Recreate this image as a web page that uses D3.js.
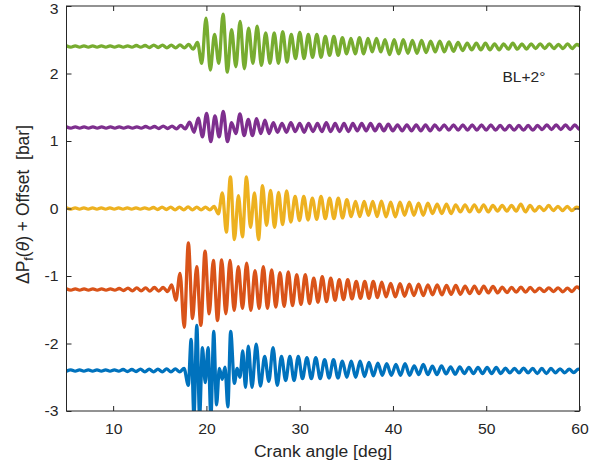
<!DOCTYPE html>
<html>
<head>
<meta charset="utf-8">
<script src="https://cdn.jsdelivr.net/npm/d3@7"></script>
<style>
body { margin: 0; background: #fff; }
text { font-family: "Liberation Sans", Arial, Helvetica, sans-serif; fill: #262626; }
</style>
</head>
<body>
<div id="chart"></div>
<script>
// pressure traces, read off the figure as the extremes of each oscillation (bar, before offset)
// each trace is split in spans of crank angle [deg]; values inside a span are evenly spaced

var offsets = [-2.4, -1.2, 0, 1.2, 2.4];
var colors = ["#0072BD", "#D95319", "#EDB120", "#7E2F8E", "#77AC30"];
var xTicks = [10, 20, 30, 40, 50, 60];
var yTicks = [-3, -2, -1, 0, 1, 2, 3];

var blueSpans = [[5, 17.6], [18.06, 22.6], [23.0, 24.49], [24.89, 29.85], [30.3, 39.33], [39.83, 60.36]];
var blueVals = [
  [-0.01,0.01,-0.01,0.01,-0.01,0.01,-0.01,0.01,-0.01,0.01,-0.01,0.01,-0.01,0.015,-0.015,0.015,-0.015,0.02,-0.02,0.02,-0.02,0.02,-0.02,0.025,-0.02,0.025,-0.02,0.03],
  [-0.22,0.46,-0.68,0.67,-0.68,0.34,-0.18,0.34,-0.68,0.58,-0.51,0.03,-0.13,0.05,-0.54,0.58],
  [-0.19,0.03,-0.10,0.29,-0.25,0.36],
  [-0.25,0.39,-0.23,0.21,-0.16,0.34,-0.22,0.21,-0.15,0.21,-0.15,0.21],
  [-0.12,0.19,-0.12,0.19,-0.12,0.16,-0.11,0.16,-0.11,0.14,-0.10,0.14,-0.10,0.14,-0.09,0.12,-0.08,0.11,-0.07,0.10],
  [-0.07,0.09,-0.07,0.10,-0.07,0.07,-0.06,0.09,-0.06,0.065,-0.06,0.07,-0.05,0.055,-0.055,0.055,-0.045,0.045,-0.045,0.045,-0.045,0.045,-0.045,0.045,-0.045,0.035,-0.035,0.03,-0.035,0.035,-0.035,0.03,-0.045,0.03,-0.045,0.03,-0.035,0.025,-0.035,0.02,-0.03,0.02,-0.02]
];

var orangeSpans = [[5, 15.83], [16.28, 28.78], [29.23, 38.8], [39.26, 60.2]];
var orangeVals = [
  [0.01,-0.01,0.01,-0.01,0.01,-0.01,0.01,-0.01,0.01,-0.01,0.01,-0.01,0.015,-0.015,0.02,-0.02,0.025,-0.02,0.025,-0.025,0.03,-0.025,0.03,-0.03],
  [0.07,-0.16,0.24,-0.56,0.69,-0.43,0.34,-0.53,0.57,-0.36,0.43,-0.46,0.44,-0.36,0.43,-0.31,0.34,-0.28,0.39,-0.31,0.28,-0.28,0.34,-0.28,0.29,-0.26,0.25,-0.25,0.26],
  [-0.24,0.22,-0.22,0.22,-0.21,0.17,-0.19,0.19,-0.18,0.17,-0.16,0.145,-0.15,0.145,-0.14,0.12,-0.13,0.12,-0.13,0.12,-0.12,0.11],
  [-0.11,0.09,-0.11,0.085,-0.10,0.08,-0.09,0.08,-0.09,0.07,-0.08,0.07,-0.08,0.06,-0.07,0.06,-0.07,0.05,-0.06,0.05,-0.06,0.05,-0.05,0.045,-0.05,0.035,-0.045,0.03,-0.04,0.035,-0.04,0.03,-0.035,0.02,-0.03,0.025,-0.03,0.025,-0.035,0.02,-0.03,0.04,-0.01]
];

var yellowSpans = [[5, 20.83], [21.28, 28.6], [29.05, 38.76], [39.26, 60.18]];
var yellowVals = [
  [0.01,-0.01,0.01,-0.01,0.01,-0.01,0.01,-0.01,0.01,-0.01,0.01,-0.01,0.01,-0.01,0.01,-0.01,0.01,-0.01,0.01,-0.01,0.015,-0.015,0.02,-0.015,0.02,-0.02,0.02,-0.02,0.025,-0.02,0.02,-0.02,0.02,-0.02,0.03],
  [-0.08,0.23,-0.35,0.47,-0.46,0.19,-0.42,0.47,-0.28,0.23,-0.46,0.34,-0.25,0.27,-0.28,0.24,-0.24,0.26],
  [-0.20,0.18,-0.18,0.18,-0.17,0.155,-0.16,0.18,-0.15,0.155,-0.15,0.155,-0.14,0.13,-0.12,0.105,-0.12,0.105,-0.10,0.105,-0.12,0.11],
  [-0.125,0.095,-0.125,0.095,-0.10,0.095,-0.10,0.08,-0.10,0.08,-0.075,0.065,-0.075,0.065,-0.075,0.055,-0.05,0.055,-0.05,0.055,-0.05,0.055,-0.05,0.045,-0.04,0.045,-0.04,0.045,-0.04,0.065,-0.05,0.045,-0.04,0.03,-0.03,0.045,-0.03,0.03,-0.03,0.03,-0.03,0.02,-0.01]
];

var purpleSpans = [[5, 18.67], [19.13, 27.17], [27.63, 39.5], [39.99, 60.5]];
var purpleVals = [
  [0.01,-0.01,0.01,-0.01,0.01,-0.01,0.01,-0.01,0.01,-0.01,0.01,-0.01,0.01,-0.01,0.01,-0.01,0.01,-0.01,0.015,-0.01,0.015,-0.015,0.02,-0.015,0.02,-0.02,0.03,-0.02,0.08,-0.07],
  [0.14,-0.14,0.21,-0.21,0.17,-0.14,0.24,-0.21,0.07,-0.09,0.20,-0.12,0.12,-0.12,0.13,-0.09,0.11,-0.09,0.07],
  [-0.07,0.06,-0.07,0.07,-0.06,0.06,-0.07,0.06,-0.06,0.06,-0.06,0.07,-0.06,0.06,-0.06,0.06,-0.06,0.06,-0.05,0.06,-0.05,0.06,-0.05,0.05,-0.05,0.05],
  [-0.05,0.04,-0.05,0.04,-0.05,0.04,-0.05,0.04,-0.05,0.04,-0.04,0.04,-0.04,0.04,-0.04,0.04,-0.04,0.04,-0.04,0.04,-0.04,0.04,-0.04,0.03,-0.04,0.03,-0.04,0.03,-0.04,0.03,-0.04,0.03,-0.03,0.04,-0.03,0.04,-0.03,0.04,-0.03,0.04,-0.03,0.04]
];

var greenSpans = [[5, 19.04], [19.5, 39.15], [39.64, 60.19]];
var greenVals = [
  [0.01,-0.01,0.01,-0.01,0.01,-0.01,0.01,-0.01,0.01,-0.01,0.01,-0.01,0.01,-0.01,0.01,-0.01,0.015,-0.01,0.015,-0.015,0.02,-0.015,0.02,-0.02,0.02,-0.02,0.025,-0.02,0.03,-0.04,0.06],
  [-0.25,0.42,-0.35,0.18,-0.25,0.48,-0.38,0.25,-0.30,0.37,-0.33,0.27,-0.25,0.30,-0.28,0.20,-0.25,0.20,-0.25,0.22,-0.23,0.18,-0.18,0.21,-0.18,0.18,-0.16,0.18,-0.16,0.15,-0.13,0.15,-0.13,0.13,-0.11,0.12,-0.11,0.13,-0.11,0.12,-0.08,0.12,-0.08,0.10],
  [-0.12,0.10,-0.11,0.10,-0.10,0.09,-0.10,0.09,-0.09,0.08,-0.08,0.08,-0.08,0.07,-0.07,0.06,-0.06,0.05,-0.05,0.05,-0.05,0.05,-0.05,0.04,-0.05,0.04,-0.04,0.05,-0.04,0.04,-0.04,0.04,-0.03,0.04,-0.03,0.04,-0.03,0.03,-0.03,0.04,-0.03,0.03,-0.01]
];

var traces = [
  [blueSpans, blueVals],
  [orangeSpans, orangeVals],
  [yellowSpans, yellowVals],
  [purpleSpans, purpleVals],
  [greenSpans, greenVals]
];

var W = 603, H = 468;
var plotL = 66.5, plotR = 579.5, plotT = 6, plotB = 411;

var x = d3.scaleLinear().domain([5, 60]).range([plotL, plotR]);
var y = d3.scaleLinear().domain([-3, 3]).range([plotB, plotT]);

var svg = d3.select("#chart").append("svg")
  .attr("width", W)
  .attr("height", H)
  .style("background", "#fff");

svg.append("clipPath").attr("id", "plotclip")
  .append("rect")
  .attr("x", plotL).attr("y", plotT)
  .attr("width", plotR - plotL).attr("height", plotB - plotT);

// spread each span's values evenly over its angle range
function toPoints(spans, vals, offset) {
  var pts = [];
  spans.forEach(function(s, k) {
    var v = vals[k];
    var at = d3.scaleLinear().domain([0, v.length - 1]).range(s);
    v.forEach(function(d, i) { pts.push([at(i), offset + d]); });
  });
  return pts;
}

var line = d3.line()
  .x(function(d) { return x(d[0]); })
  .y(function(d) { return y(d[1]); })
  .curve(d3.curveMonotoneX);

var plot = svg.append("g").attr("clip-path", "url(#plotclip)");

traces.forEach(function(t, i) {
  plot.append("path")
    .datum(toPoints(t[0], t[1], offsets[i]))
    .attr("d", line)
    .attr("fill", "none")
    .attr("stroke", colors[i])
    .attr("stroke-width", 3.3)
    .attr("stroke-linejoin", "round");
});

// axes, ticks pointing inward on all four sides
var xAxis = svg.append("g")
  .attr("transform", "translate(0," + plotB + ")")
  .call(d3.axisBottom(x).tickValues(xTicks).tickSizeInner(-5).tickSizeOuter(0).tickPadding(12));
var yAxis = svg.append("g")
  .attr("transform", "translate(" + plotL + ",0)")
  .call(d3.axisLeft(y).tickValues(yTicks).tickSizeInner(-5).tickSizeOuter(0).tickPadding(8).tickFormat(function(d){ return String(d); }));
svg.append("g")
  .attr("transform", "translate(0," + plotT + ")")
  .call(d3.axisTop(x).tickValues(xTicks).tickSizeInner(-5).tickSizeOuter(0).tickFormat(""));
svg.append("g")
  .attr("transform", "translate(" + plotR + ",0)")
  .call(d3.axisRight(y).tickValues(yTicks).tickSizeInner(-5).tickSizeOuter(0).tickFormat(""));

svg.selectAll(".domain").remove();
svg.selectAll(".tick line").attr("stroke", "#262626");
svg.selectAll(".tick text")
  .attr("fill", "#262626")
  .style("font-size", "15px")
  .style("font-family", "'Liberation Sans', Arial, sans-serif");

// top label sits a touch low so it stays inside the figure
yAxis.selectAll(".tick text").filter(function(d) { return d === 3; }).attr("dy", "0.5em");

svg.append("rect")
  .attr("x", plotL).attr("y", plotT)
  .attr("width", plotR - plotL).attr("height", plotB - plotT)
  .attr("fill", "none")
  .attr("stroke", "#262626")
  .attr("stroke-width", 1);

// axis labels
var xlab = svg.append("text")
  .attr("x", (plotL + plotR) / 2)
  .attr("y", 457)
  .attr("text-anchor", "middle")
  .style("font-size", "16px")
  .text("Crank angle [deg]");

var ylab = svg.append("text")
  .attr("transform", "translate(29," + ((plotT + plotB) / 2 - 4) + ") rotate(-90)")
  .attr("text-anchor", "middle")
  .style("font-size", "17.5px");
ylab.append("tspan").text("\u0394P");
ylab.append("tspan").attr("dy", 4).style("font-size", "12.5px").text("f");
ylab.append("tspan").attr("dy", -4).text("(");
ylab.append("tspan").style("font-style", "italic").text("\u03b8");
ylab.append("tspan").text(") + Offset\u00a0\u00a0[bar]");

svg.append("text")
  .attr("x", 502.5)
  .attr("y", 81.5)
  .style("font-size", "15.5px")
  .text("BL+2\u00b0");

// the figure's lettering runs a little wider than Liberation Sans
function stretch(sel, k) {
  sel.each(function() {
    var n = this.getComputedTextLength();
    d3.select(this).attr("textLength", n * k).attr("lengthAdjust", "spacingAndGlyphs");
  });
}
stretch(xAxis.selectAll(".tick text"), 1.05);
stretch(yAxis.selectAll(".tick text"), 1.05);
xlab.attr("textLength", 138).attr("lengthAdjust", "spacingAndGlyphs");
</script>
</body>
</html>
